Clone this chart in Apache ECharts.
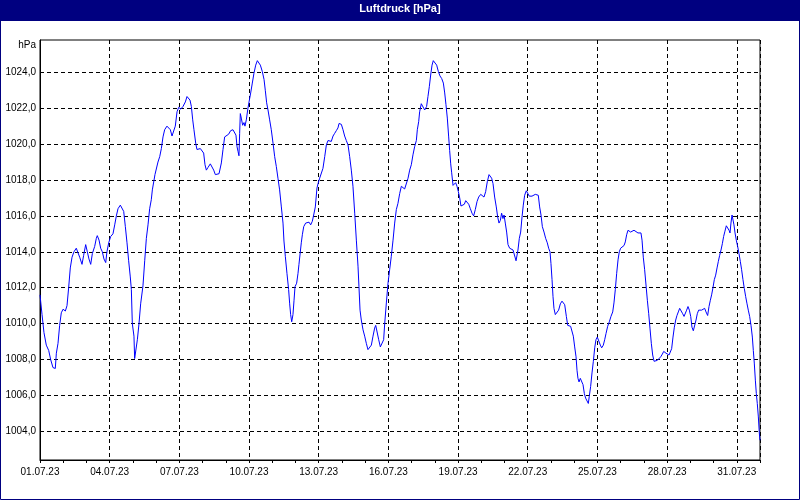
<!DOCTYPE html>
<html>
<head>
<meta charset="utf-8">
<script src="https://cdn.jsdelivr.net/npm/echarts@6/dist/echarts.min.js"></script>
<style>
html,body{margin:0;padding:0;background:#ffffff;}
#chart{width:800px;height:500px;}
</style>
</head>
<body>
<div id="chart"></div>
<script>
// Hours since 01.07.2023 00:00
const hours = [
0,2.1,4.1,6.5,9.0,11.0,13.4,15.8,16.9,18.6,20.3,22.0,23.8,26.2,27.9,29.6,31.3,33.1,35.1,37.5,39.3,41.0,43.4,45.1,47.2,48.9,50.6,52.4,54.1,56.5,58.2,59.2,61.0,62.7,64.4,66.1,67.9,69.2,71.0,73.0,75.4,77.2,78.9,80.6,83.0,84.7,86.5,88.2,89.9,91.6,93.3,94.4,95.4,97.1,97.8,99.5,100.6,102.3,104.0,106.4,108.2,109.9,111.6,113.3,115.0,116.1,118.8,
121.9,123.7,125.4,127.1,128.8,131.2,133.0,134.7,136.4,138.1,139.8,141.6,143.3,145.4,147.8,150.2,151.9,153.3,155.0,156.4,157.8,159.1,160.9,162.2,164.0,165.7,167.4,169.1,170.5,171.9,173.6,176.0,177.7,179.5,181.2,182.9,185.0,186.3,187.4,189.1,190.8,192.5,194.9,197.0,199.4,201.2,202.5,203.6,204.6,205.6,206.3,207.0,208.0,209.4,210.8,211.8,213.2,214.6,216.0,217.7,219.4,221.1,222.9,224.6,226.0,227.7,229.7,231.5,232.8,234.2,235.6,237.3,239.0,240.8,242.5,244.2,
245.9,247.6,249.4,251.1,252.1,253.5,255.2,256.9,258.0,259.0,260.1,261.4,262.5,263.5,265.2,266.6,267.6,269.0,270.0,271.1,272.5,274.5,276.2,278.0,279.7,281.4,282.8,284.5,286.2,287.3,289.0,290.7,292.4,294.2,295.9,297.6,299.3,301.0,302.8,304.5,306.2,307.9,309.0,310.3,311.4,313.1,314.8,316.5,318.3,320.0,321.7,323.4,325.2,326.9,328.6,329.6,330.7,332.0,333.8,335.5,337.2,338.9,340.7,342.4,344.1,345.8,346.9,348.6,350.0,351.7,353.4,355.1,356.2,357.9,359.6,361.3,363.0,364.8,366.5,368.2,
369.9,371.7,373.4,375.1,376.8,378.5,380.3,382.0,383.7,385.4,387.1,388.9,389.9,391.3,392.3,394.0,395.8,397.5,398.5,399.5,400.9,402.3,403.7,405.1,406.4,408.2,409.9,411.6,413.3,415.1,416.8,418.2,419.5,420.9,422.3,423.3,424.4,425.4,426.8,428.5,429.5,430.9,432.3,433.7,435.0,436.8,438.5,439.9,441.6,443.0,444.7,446.4,448.1,449.8,451.6,453.3,455.4,457.1,458.8,460.5,462.2,464.0,465.3,466.7,468.1,469.8,471.5,472.9,474.3,475.7,477.0,478.4,479.5,480.8,482.2,483.6,485.3,487.0,488.8,490.5,491.9,
493.9,495.3,496.7,498.1,499.4,500.8,502.5,504.3,505.6,507.0,508.4,510.1,511.8,513.6,514.9,516.3,517.7,519.1,520.8,522.5,524.2,525.6,527.0,528.0,529.1,530.1,531.1,532.5,534.2,535.9,537.7,539.4,540.8,542.2,543.9,545.3,546.6,548.3,549.7,551.1,552.5,553.9,554.9,555.9,557.0,558.3,559.7,561.1,562.5,563.8,565.2,566.6,567.6,569.0,570.4,571.8,573.2,574.5,575.9,577.6,579.0,580.4,582.1,583.5,584.9,586.6,588.3,590.0,591.8,593.1,594.5,595.9,597.3,598.6,600.0,601.7,603.5,604.8,606.2,607.6,609.0,610.3,612.1,613.8,615.5,
617.9,619.7,621.0,622.1,623.4,624.8,626.2,627.6,629.0,630.3,631.7,633.1,634.5,636.2,637.9,639.6,641.4,643.1,644.5,645.5,646.9,648.6,650.0,651.3,652.7,654.1,655.5,656.9,658.2,659.6,661.0,662.7,664.1,665.5,666.8,668.2,669.6,671.0,672.4,673.7,675.1,676.5,677.9,679.2,680.6,682.3,683.7,685.1,686.8,688.2,689.9,691.3,692.7,694.0,695.4,696.8,698.2,699.6,700.9,702.3,703.7,705.1,706.4,707.8,709.2,710.6,712.0,713.0,714.0,715.1,716.1,717.1,718.2,719.5,720.9,722.3,723.7,725.0,726.4,727.8,729.2,730.6,731.9,733.3,734.7,736.1,737.1,738.1,739.2,740.2,741.2,742.3,743.3,744.0
];
// Luftdruck in hPa
const pressure = [
1011.6,1010.5,1009.5,1008.8,1008.5,1008.0,1007.55,1007.5,1008.35,1008.9,1009.9,1010.6,1010.8,1010.7,1011.0,1012.0,1013.1,1013.7,1014.0,1014.2,1014.2,1013.7,1013.3,1013.8,1014.4,1014.0,1013.6,1013.3,1013.9,1014.3,1014.75,1014.9,1014.65,1014.2,1014.0,1013.6,1013.4,1014.0,1014.5,1014.85,1015.0,1015.5,1016.0,1016.4,1016.6,1016.5,1016.25,1015.4,1014.5,1013.5,1012.6,1011.9,1010.0,1009.3,1008.05,1008.05,1009.1,1010.0,1011.1,1012.1,1013.5,1014.75,1015.5,1016.4,1016.9,1017.45,1018.3,
1019.0,1019.3,1019.75,1020.4,1020.8,1021.0,1021.1,1020.8,1020.45,1020.5,1021.0,1021.8,1022.05,1021.95,1022.1,1022.35,1022.65,1022.75,1022.45,1022.1,1021.35,1020.8,1020.05,1019.7,1019.6,1019.75,1019.75,1019.5,1018.85,1018.55,1018.7,1018.9,1018.85,1018.55,1018.3,1018.2,1018.35,1018.3,1018.95,1019.7,1020.4,1020.5,1020.55,1020.75,1020.8,1020.75,1020.5,1019.85,1019.6,1019.35,1020.6,1021.7,1021.45,1021.05,1021.2,1021.0,1021.35,1021.9,1022.35,1022.85,1023.4,1023.95,1024.4,1024.65,1024.6,1024.4,1024.05,1023.6,1023.0,1022.3,1021.9,1021.35,1020.8,1020.05,1019.3,1018.75,
1018.1,1017.45,1016.5,1015.6,1014.6,1013.75,1012.8,1011.9,1011.1,1010.5,1010.1,1010.5,1011.3,1012.05,1012.25,1012.8,1013.3,1013.35,1014.5,1014.95,1015.4,1015.6,1015.7,1015.65,1015.5,1015.7,1016.05,1016.5,1017.55,1017.8,1018.1,1018.2,1018.65,1019.3,1019.95,1020.2,1020.25,1020.15,1020.45,1020.6,1020.75,1020.9,1021.15,1021.25,1021.1,1020.8,1020.45,1020.2,1019.95,1019.3,1018.55,1017.65,1016.15,1014.65,1013.2,1012.05,1010.75,1010.2,1009.65,1009.3,1008.9,1008.55,1008.5,1008.8,1009.3,1009.75,1009.9,1009.85,1009.1,1008.7,1008.65,1009.1,1010.0,1011.15,1012.25,1013.0,1013.75,1014.65,1015.6,1016.35,
1016.7,1017.25,1017.65,1017.7,1017.5,1017.55,1018.1,1018.55,1018.85,1019.4,1019.85,1020.2,1020.8,1021.25,1021.8,1022.25,1022.3,1021.9,1021.85,1022.1,1022.65,1023.2,1023.85,1024.4,1024.65,1024.7,1024.4,1024.05,1023.8,1023.65,1023.4,1022.85,1022.2,1021.45,1020.4,1019.65,1018.9,1018.4,1017.7,1017.6,1017.85,1017.65,1017.35,1017.0,1016.55,1016.5,1016.65,1016.85,1016.85,1016.65,1016.4,1016.15,1016.0,1016.35,1016.8,1017.05,1017.2,1017.15,1017.05,1017.35,1017.9,1018.3,1018.4,1018.1,1017.8,1017.05,1016.5,1015.95,1015.6,1015.75,1016.15,1015.85,1016.05,1015.6,1015.1,1014.4,1014.2,1014.15,1014.1,1014.0,1013.5,
1014.1,1014.75,1015.1,1015.95,1016.6,1017.15,1017.4,1017.4,1017.1,1017.0,1017.1,1017.1,1017.2,1017.25,1017.15,1016.5,1016.05,1015.4,1015.1,1014.75,1014.5,1014.2,1014.0,1013.35,1012.45,1011.5,1010.85,1010.5,1010.5,1010.75,1011.1,1011.25,1011.3,1011.05,1010.4,1009.9,1009.8,1009.85,1009.75,1009.3,1008.7,1008.15,1007.4,1006.95,1006.75,1006.95,1006.85,1006.6,1006.1,1005.85,1005.95,1005.55,1005.95,1006.5,1007.25,1007.9,1008.65,1009.1,1009.25,1009.3,1008.8,1008.65,1008.8,1009.1,1009.45,1009.85,1010.1,1010.4,1010.65,1011.15,1011.9,1012.8,1013.55,1014.0,1014.2,1014.3,1014.35,1014.55,1014.95,1015.2,1015.3,1015.1,1015.1,1015.2,1015.2,
1015.05,1015.1,1015.05,1014.65,1013.7,1013.0,1012.15,1011.3,1010.55,1009.75,1008.9,1008.25,1007.9,1007.9,1007.95,1008.05,1008.15,1008.3,1008.45,1008.55,1008.35,1008.35,1008.25,1008.25,1008.6,1009.25,1009.8,1010.2,1010.45,1010.65,1010.85,1010.75,1010.55,1010.4,1010.4,1010.75,1010.95,1010.75,1010.4,1009.8,1009.6,1009.7,1010.2,1010.55,1010.75,1010.85,1010.75,1010.65,1010.85,1010.65,1010.45,1010.95,1011.3,1011.6,1012.0,1012.45,1012.7,1013.1,1013.45,1013.8,1014.1,1014.45,1014.85,1015.15,1015.45,1015.5,1015.2,1015.05,1015.6,1016.05,1016.15,1015.5,1015.05,1014.65,1014.3,1013.9,1013.45,1013.0,1012.45,1011.95,1011.5,1011.1,1010.75,1010.4,1009.9,1009.25,1008.5,1007.8,1006.85,1006.1,1005.55,1004.8,1003.9,1003.5
];
const chartTitle = 'Luftdruck [hPa]';
const yUnit = 'hPa';
const yMin = 1002.4, yMax = 1025.8;
const yTicks = [1004, 1006, 1008, 1010, 1012, 1014, 1016, 1018, 1020, 1022, 1024];
const xMinH = 0, xMaxH = 744, xGridStepH = 72;
const xLabelHours = [0, 72, 144, 216, 288, 360, 432, 504, 576, 648, 720];
const xTickHours = [0,24,48,72,96,120,144,168,192,216,240,264,288,312,336,360,384,408,432,456,480,504,528,552,576,600,624,648,672,696,720,744];
const startUTC = Date.UTC(2023, 6, 1);

const seriesData = hours.map((h, i) => [h, pressure[i]]);
function pad(n){ return (n < 10 ? '0' : '') + n; }
function dateLabel(h){
  const d = new Date(startUTC + h * 3600000);
  return pad(d.getUTCDate()) + '.' + pad(d.getUTCMonth() + 1) + '.' + pad(d.getUTCFullYear() % 100);
}
function yLabel(v){
  return Number(v).toFixed(1).replace('.', ',');
}

const FONT = 'Liberation Sans';
const gridLine = {show: true, lineStyle: {color: '#000000', type: [4, 3], width: 1}};
const chart = echarts.init(document.getElementById('chart'), null, {renderer: 'canvas'});
chart.setOption({
  backgroundColor: '#ffffff',
  animation: false,
  graphic: [
    {type: 'rect', z: 0, shape: {x: 0, y: 0, width: 800, height: 21}, style: {fill: '#000080'}},
    {type: 'rect', z: 0, shape: {x: 0.5, y: 0.5, width: 799, height: 499}, style: {fill: null, stroke: '#000080', lineWidth: 1}}
  ],
  title: {
    text: chartTitle, left: 'center', top: 3, padding: 0, z: 10,
    textStyle: {color: '#ffffff', fontSize: 11, fontWeight: 'bold', fontFamily: FONT}
  },
  grid: {left: 40, right: 40, top: 40, bottom: 40, show: true, borderColor: '#000000', borderWidth: 1, backgroundColor: 'transparent'},
  xAxis: [
    {
      type: 'value', min: xMinH, max: xMaxH, position: 'bottom',
      axisLine: {show: true, onZero: false, lineStyle: {color: '#000000', width: 1}},
      axisTick: {show: true, length: 3, inside: false, customValues: xTickHours, lineStyle: {color: '#000000', width: 1}},
      axisLabel: {customValues: xLabelHours, formatter: dateLabel, color: '#000000', fontSize: 10, fontFamily: FONT, margin: 7},
      splitLine: {show: false}
    },
    {
      type: 'value', min: xMinH, max: xMaxH, interval: xGridStepH, position: 'top',
      axisLine: {show: false},
      axisTick: {show: false},
      axisLabel: {show: false},
      splitLine: gridLine
    }
  ],
  yAxis: {
    type: 'value', min: yMin, max: yMax,
    name: yUnit, nameLocation: 'end', nameGap: -5,
    nameTextStyle: {align: 'right', verticalAlign: 'middle', color: '#000000', fontSize: 10, fontFamily: FONT, padding: [0, 4, 0, 0]},
    axisLine: {show: true, onZero: false, lineStyle: {color: '#000000', width: 1}},
    axisTick: {show: false, customValues: yTicks},
    axisLabel: {customValues: yTicks, formatter: yLabel, color: '#000000', fontSize: 10, fontFamily: FONT, margin: 4},
    splitLine: gridLine
  },
  series: [{
    type: 'line', xAxisIndex: 0, data: seriesData, showSymbol: false, symbol: 'none',
    lineStyle: {color: '#0000ff', width: 1}, smooth: false
  }]
});
</script>
</body>
</html>
